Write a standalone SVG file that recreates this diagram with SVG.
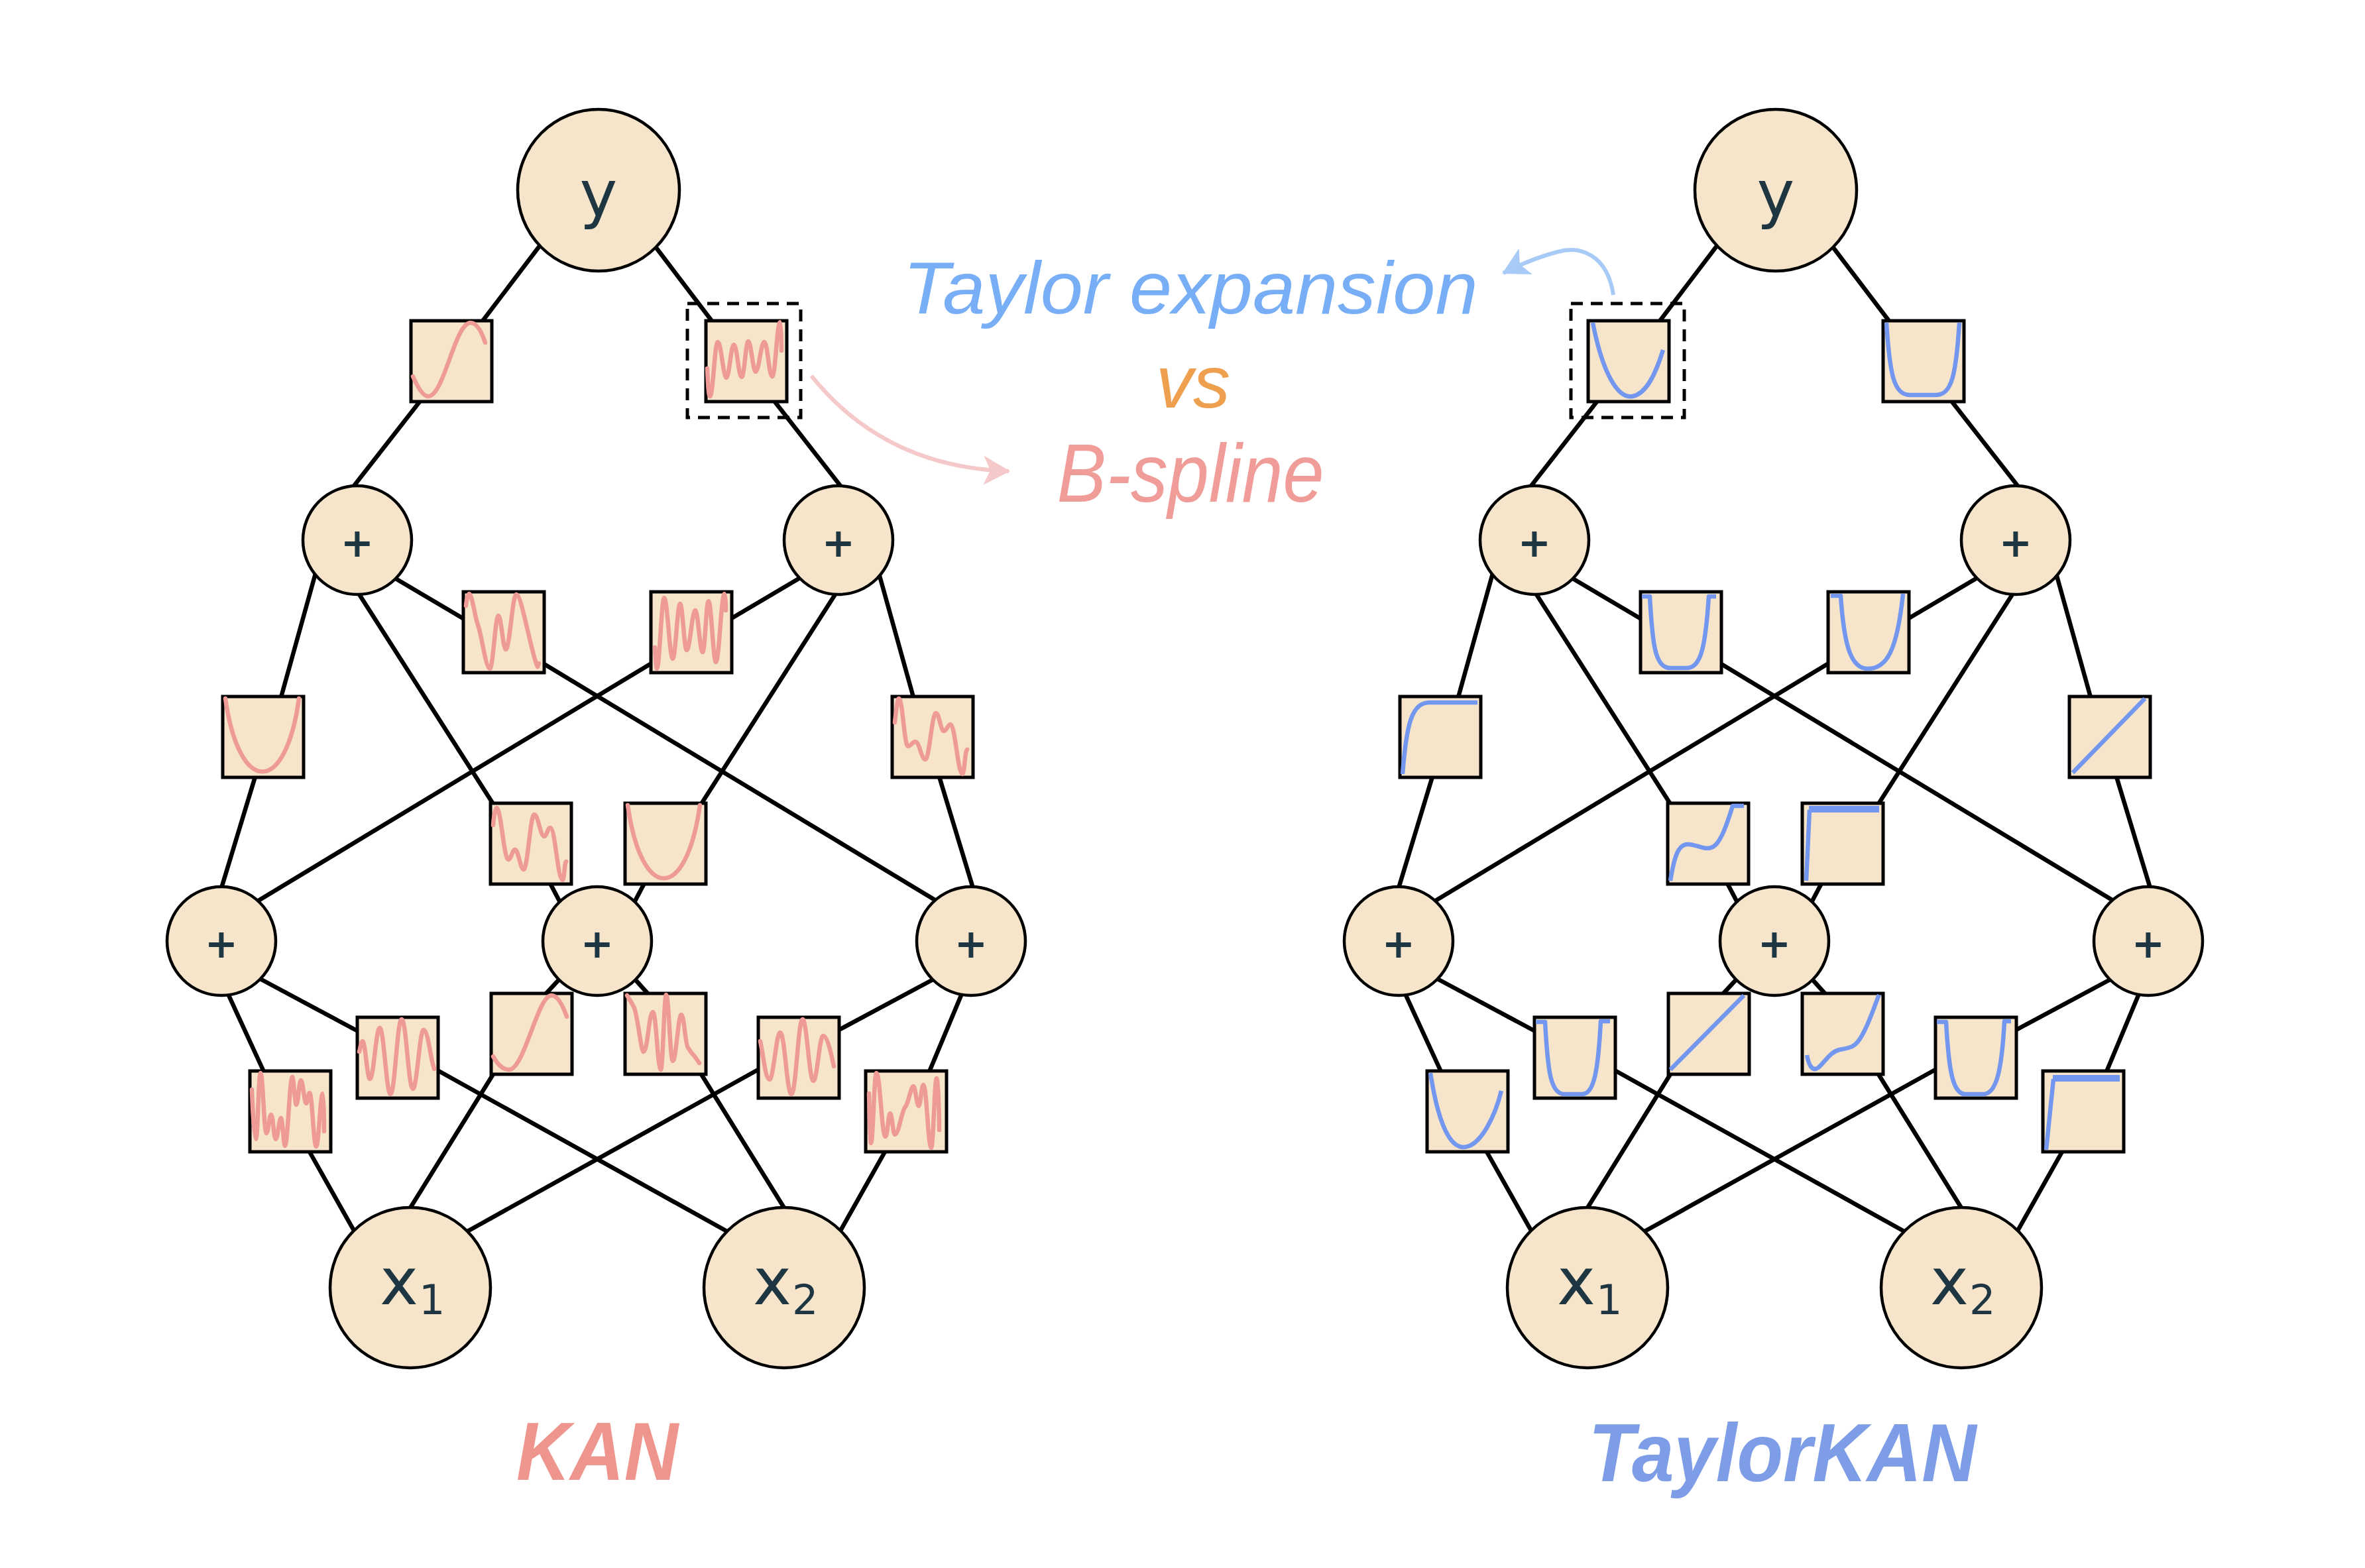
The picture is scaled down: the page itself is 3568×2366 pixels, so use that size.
<svg xmlns="http://www.w3.org/2000/svg" width="3568" height="2366" viewBox="0 0 3568 2366">
<defs>
<style>
.edge{fill:none;stroke:#000;stroke-width:6.5;stroke-linecap:round}
.node circle{fill:#f6e5cb;stroke:#000;stroke-width:4.5}
.fn rect{fill:#f6e5cb;stroke:#000;stroke-width:5}
.pk{fill:none;stroke:#ee9b97;stroke-width:6.5;stroke-linecap:round;stroke-linejoin:round}
.bl{fill:none;stroke:#7397ef;stroke-width:6.5;stroke-linejoin:round}
.blt{fill:none;stroke:#7397ef;stroke-width:10}
.nl{font-family:"DejaVu Sans",sans-serif;fill:#1e3642;text-anchor:middle}
.sub{font-family:"DejaVu Sans",sans-serif;fill:#1e3642;text-anchor:start;font-size:62px}
.plus{font-family:"DejaVu Sans",sans-serif;font-weight:bold;fill:#1e3642;text-anchor:middle;font-size:60px}
.sel{fill:none;stroke:#000;stroke-width:5;stroke-dasharray:18 12}
.title{font-family:"Liberation Sans",Arial,sans-serif;font-style:italic;text-anchor:middle}
</style>
<marker id="ah-pink" markerUnits="userSpaceOnUse" viewBox="0 0 40 44" refX="38" refY="22" markerWidth="40" markerHeight="44" orient="auto">
<path d="M0,0 L40,22 L0,44 L10,22 Z" fill="#f5c9c9"/>
</marker>
<marker id="ah-blue" markerUnits="userSpaceOnUse" viewBox="0 0 40 44" refX="38" refY="22" markerWidth="40" markerHeight="44" orient="auto">
<path d="M0,0 L40,22 L0,44 L10,22 Z" fill="#a8caf6"/>
</marker>
<path id="net-edges" d="M821 362 L726 487 M634 605 L520 751 M981 362 L1076 487 M1168 605 L1282 751 M478 858 L424 1052 M385 1172 L331 1350 M535 886 L744 1213 M830 1333 L850 1371 M590 869 L700 934 M821 1002 L1447 1380 M1324 858 L1378 1052 M1417 1172 L1471 1350 M1267 886 L1058 1213 M972 1333 L952 1371 M1212 869 L1102 934 M981 1002 L355 1380 M340 1491 L398 1617 M467 1738 L538 1864 M385 1473 L540 1556 M660 1615 L1104 1862 M850 1471 L823 1500 M744 1621 L615 1829 M952 1471 L978 1500 M1058 1621 L1187 1829 M1417 1473 L1262 1556 M1142 1615 L698 1862 M1455 1490 L1402 1617 M1335 1738 L1264 1864"/>
</defs>
<rect width="3568" height="2366" fill="#fff"/>
<g id="connectors">
<use href="#net-edges" class="edge"/>
<use href="#net-edges" class="edge" transform="translate(1776,0)"/>
</g>
<g id="kan">
<g id="kan-y" class="node"><circle cx="903" cy="287" r="122"/><text class="nl" x="903" y="326" font-size="96">y</text></g>
<g id="kan-h2a" class="node"><circle cx="539" cy="815" r="82"/><text class="plus" x="539" y="840">+</text></g>
<g id="kan-h2b" class="node"><circle cx="1265" cy="815" r="82"/><text class="plus" x="1265" y="840">+</text></g>
<g id="kan-h1a" class="node"><circle cx="334" cy="1420" r="82"/><text class="plus" x="334" y="1445">+</text></g>
<g id="kan-h1b" class="node"><circle cx="901" cy="1420" r="82"/><text class="plus" x="901" y="1445">+</text></g>
<g id="kan-h1c" class="node"><circle cx="1465" cy="1420" r="82"/><text class="plus" x="1465" y="1445">+</text></g>
<g id="kan-x1" class="node"><circle cx="619" cy="1943" r="121"/><text class="nl" x="602" y="1968" font-size="98">x</text><text class="sub" x="632" y="1983">1</text></g>
<g id="kan-x2" class="node"><circle cx="1183" cy="1943" r="121"/><text class="nl" x="1165" y="1968" font-size="98">x</text><text class="sub" x="1195" y="1983">2</text></g>
<g id="kan-f1" class="fn" transform="translate(620,484)"><rect width="122" height="122"/><path class="pk" d="M3 84 C10 100 18 114 26 114 C50 114 66 3 90 3 C100 3 107 18 112 33"/></g>
<g id="kan-f2" class="fn" transform="translate(1065,484)"><rect width="122" height="122"/><path class="pk" d="M2 72 C3 95 4 114 6 114 C11 114 13 32 18 32 C23 32 26 86 31 86 C35 86 38 36 42 36 C47 36 49 85 54 85 C58 85 60 31 64 31 C68 31 71 77 75 77 C80 77 83 32 88 32 C93 32 95 84 100 84 C105 84 107 2 112 2 C113 2 114 30 114 45"/></g>
<g id="kan-f3" class="fn" transform="translate(699,893)"><rect width="122" height="122"/><path class="pk" d="M4 21 C5 10 7 3 9 3 C13 3 18 40 22 50 C27 62 34 116 40 116 C45 116 48 36 53 36 C57 36 60 87 64 87 C70 87 74 4 80 4 C88 4 104 100 112 113 L114 108"/></g>
<g id="kan-f4" class="fn" transform="translate(982,893)"><rect width="122" height="122"/><path class="pk" d="M6 84 C7 100 8 116 9 116 C13 116 16 9 20 9 C25 9 28 101 33 101 C37 101 40 18 44 18 C48 18 50 88 54 88 C59 88 62 28 67 28 C71 28 74 91 78 91 C82 91 83 14 87 14 C91 14 94 106 98 106 C103 106 106 3 111 3 C112 3 113 15 113 28"/></g>
<g id="kan-f5" class="fn" transform="translate(336,1051)"><rect width="122" height="122"/><path class="pk" d="M4 3 C25 150 95 150 115 3"/></g>
<g id="kan-f6" class="fn" transform="translate(1346,1051)"><rect width="122" height="122"/><path class="pk" d="M4 39 C6 20 8 3 10 3 C16 3 18 75 24 75 C28 75 31 68 35 68 C41 68 44 95 50 95 C56 95 60 25 66 25 C71 25 73 52 78 52 C82 52 84 42 88 42 C95 42 99 117 106 117 C109 117 110 80 113 80"/></g>
<g id="kan-f7" class="fn" transform="translate(740,1212)"><rect width="122" height="122"/><path class="pk" d="M4 33 C5 20 7 7 9 7 C16 7 20 85 27 85 C31 85 33 70 37 70 C42 70 45 100 50 100 C56 100 60 17 66 17 C72 17 75 50 81 50 C85 50 86 37 90 37 C98 37 101 116 109 116 C111 116 112 88 114 88"/></g>
<g id="kan-f8" class="fn" transform="translate(943,1212)"><rect width="122" height="122"/><path class="pk" d="M4 3 C25 150 92 150 113 3"/></g>
<g id="kan-f9" class="fn" transform="translate(377,1616)"><rect width="122" height="122"/><path class="pk" d="M3 28 C4 60 7 103 9 103 C12 103 13 3 16 3 C20 3 21 94 25 94 C28 94 29 66 32 66 C35 66 36 103 39 103 C42 103 44 71 47 71 C49 71 51 113 53 113 C57 113 60 9 64 9 C66 9 68 51 70 51 C73 51 74 14 77 14 C80 14 82 49 85 49 C87 49 88 33 90 33 C94 33 96 114 100 114 C104 114 106 34 110 34 C111 34 112 70 112 91"/></g>
<g id="kan-f10" class="fn" transform="translate(539,1535)"><rect width="122" height="122"/><path class="pk" d="M3 52 C5 45 6 36 8 36 C12 36 15 93 19 93 C25 93 28 16 34 16 C40 16 44 116 50 116 C57 116 60 3 67 3 C74 3 77 108 84 108 C90 108 94 19 100 19 C106 19 110 55 114 71 L116 78"/></g>
<g id="kan-f11" class="fn" transform="translate(741,1499)"><rect width="122" height="122"/><path class="pk" d="M3 95 C10 108 18 115 27 115 C50 115 70 3 91 3 C100 3 108 18 114 35"/></g>
<g id="kan-f12" class="fn" transform="translate(943,1499)"><rect width="122" height="122"/><path class="pk" d="M3 3 C6 8 10 14 14 22 C20 40 24 88 28 88 C34 88 36 28 42 28 C47 28 49 115 54 115 C57 115 59 2 62 2 C66 2 68 102 72 102 C77 102 80 32 85 32 C89 32 91 78 95 82 C100 90 103 93 105 95 L112 105"/></g>
<g id="kan-f13" class="fn" transform="translate(1144,1535)"><rect width="122" height="122"/><path class="pk" d="M3 36 C8 60 11 94 17 94 C23 94 27 23 33 23 C40 23 43 116 50 116 C57 116 60 3 67 3 C73 3 77 96 83 96 C89 96 92 28 98 28 C104 28 110 55 114 74"/></g>
<g id="kan-f14" class="fn" transform="translate(1306,1616)"><rect width="122" height="122"/><path class="pk" d="M5 34 C6 70 7 109 8 109 C11 109 13 3 16 3 C22 3 24 99 30 99 C33 99 34 64 37 64 C40 64 41 96 44 96 C50 96 54 60 60 54 C65 48 68 23 72 23 C75 23 77 53 80 53 C83 53 84 21 87 21 C92 21 94 116 99 116 C102 116 104 11 107 11 C109 11 111 60 111 89"/></g>
</g>
<g id="taylorkan">
<g id="tk-y" class="node"><circle cx="2679" cy="287" r="122"/><text class="nl" x="2679" y="326" font-size="96">y</text></g>
<g id="tk-h2a" class="node"><circle cx="2315" cy="815" r="82"/><text class="plus" x="2315" y="840">+</text></g>
<g id="tk-h2b" class="node"><circle cx="3041" cy="815" r="82"/><text class="plus" x="3041" y="840">+</text></g>
<g id="tk-h1a" class="node"><circle cx="2110" cy="1420" r="82"/><text class="plus" x="2110" y="1445">+</text></g>
<g id="tk-h1b" class="node"><circle cx="2677" cy="1420" r="82"/><text class="plus" x="2677" y="1445">+</text></g>
<g id="tk-h1c" class="node"><circle cx="3241" cy="1420" r="82"/><text class="plus" x="3241" y="1445">+</text></g>
<g id="tk-x1" class="node"><circle cx="2395" cy="1943" r="121"/><text class="nl" x="2378" y="1968" font-size="98">x</text><text class="sub" x="2408" y="1983">1</text></g>
<g id="tk-x2" class="node"><circle cx="2959" cy="1943" r="121"/><text class="nl" x="2941" y="1968" font-size="98">x</text><text class="sub" x="2971" y="1983">2</text></g>
<g id="tk-f1" class="fn" transform="translate(2396,484)"><rect width="122" height="122"/><path class="bl" d="M7 3 C22 80 45 118 67 114 C88 110 102 80 113 44"/></g>
<g id="tk-f2" class="fn" transform="translate(2841,484)"><rect width="122" height="122"/><path class="bl" d="M5 3 C10 80 16 112 40 112 L80 112 C104 112 110 80 115 3"/></g>
<g id="tk-f3" class="fn" transform="translate(2475,893)"><rect width="122" height="122"/><path class="bl" d="M2 7 L14 7 C18 80 22 115 45 115 L70 115 C92 115 98 80 103 7 L114 7"/></g>
<g id="tk-f4" class="fn" transform="translate(2758,893)"><rect width="122" height="122"/><path class="bl" d="M4 6 L19 6 C24 80 34 116 60 116 C88 116 104 90 113 3"/></g>
<g id="tk-f5" class="fn" transform="translate(2112,1051)"><rect width="122" height="122"/><path class="bl" d="M4 117 C10 40 18 9 45 9 L117 9"/></g>
<g id="tk-f6" class="fn" transform="translate(3122,1051)"><rect width="122" height="122"/><path class="bl" d="M5 115 L114 3"/></g>
<g id="tk-f7" class="fn" transform="translate(2516,1212)"><rect width="122" height="122"/><path class="bl" d="M4 117 C10 80 16 62 30 62 C45 62 55 72 68 66 C80 60 90 30 98 4 L115 4"/></g>
<g id="tk-f8" class="fn" transform="translate(2719,1212)"><rect width="122" height="122"/><path class="bl" d="M6 117 L11 10"/><path class="blt" d="M10 9 L116 9"/></g>
<g id="tk-f9" class="fn" transform="translate(2153,1616)"><rect width="122" height="122"/><path class="bl" d="M5 3 C20 100 42 120 61 114 C82 108 102 70 112 30"/></g>
<g id="tk-f10" class="fn" transform="translate(2315,1535)"><rect width="122" height="122"/><path class="bl" d="M2 7 L16 7 C20 80 24 116 45 116 L72 116 C90 116 96 80 100 6 L114 6"/></g>
<g id="tk-f11" class="fn" transform="translate(2517,1499)"><rect width="122" height="122"/><path class="bl" d="M3 115 L114 3"/></g>
<g id="tk-f12" class="fn" transform="translate(2719,1499)"><rect width="122" height="122"/><path class="bl" d="M7 93 C10 110 16 118 24 112 C34 104 42 88 56 85 C70 82 78 82 86 70 C100 50 108 20 116 2"/></g>
<g id="tk-f13" class="fn" transform="translate(2920,1535)"><rect width="122" height="122"/><path class="bl" d="M2 7 L16 7 C20 80 26 116 45 116 L72 116 C92 116 100 80 104 6 L114 6"/></g>
<g id="tk-f14" class="fn" transform="translate(3082,1616)"><rect width="122" height="122"/><path class="bl" d="M5 119 L16 12"/><path class="blt" d="M15 11 L116 11"/></g>
</g>
<g id="highlights">
<rect class="sel" x="1037" y="458" width="171" height="172"/>
<rect class="sel" x="2370" y="458" width="171" height="172"/>
<path d="M1224 567 Q1335 705 1522 711" fill="none" stroke="#f5c9c9" stroke-width="6" marker-end="url(#ah-pink)"/>
<path d="M2434 445 C2425 385 2385 370 2350 380 C2320 388 2295 398 2268 412" fill="none" stroke="#a8caf6" stroke-width="6" marker-end="url(#ah-blue)"/>
</g>
<g id="labels">
<text class="title" x="1796" y="473" font-size="112" fill="#78aef5" textLength="867" lengthAdjust="spacingAndGlyphs">Taylor expansion</text>
<text class="title" x="1800" y="615" font-size="112" fill="#eea04e">vs</text>
<text class="title" x="1796" y="757" font-size="124" fill="#f09d9a" textLength="403" lengthAdjust="spacingAndGlyphs">B-spline</text>
<text class="title" x="901" y="2233" font-size="125" font-weight="bold" fill="#ee958d" textLength="244" lengthAdjust="spacingAndGlyphs">KAN</text>
<text class="title" x="2689" y="2235" font-size="125" font-weight="bold" fill="#7d9de6" textLength="585" lengthAdjust="spacingAndGlyphs">TaylorKAN</text>
</g>
</svg>
